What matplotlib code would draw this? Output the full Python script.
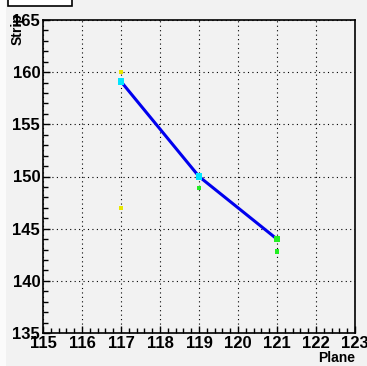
import matplotlib.pyplot as plt
from matplotlib.ticker import MultipleLocator
from matplotlib.patches import Rectangle

# fitted track
line_plane = [117, 119, 121]
line_strip = [159.1, 150.0, 144.0]

# hits, by colour
cyan_plane = [117, 119]
cyan_strip = [159.1, 150.0]
yellow_plane = [117, 117]
yellow_strip = [160.0, 147.0]
green_plane = [119, 121, 121]
green_strip = [148.9, 144.0, 142.8]
green_size = [9, 22, 10]

bg = "#f2f2f2"
plt.rcParams["font.family"] = ["Liberation Sans", "DejaVu Sans"]
plt.rcParams["font.weight"] = "bold"

fig = plt.figure(figsize=(3.67, 3.66), dpi=100, facecolor=bg)
ax = fig.add_axes([43 / 367, 33 / 366, 312 / 367, 313 / 366])
ax.set_facecolor(bg)

# pad border strip and title box
fig.patches.append(Rectangle((0, 0), 6 / 367, 1, transform=fig.transFigure,
                             facecolor="#fbfbfb", edgecolor="none", zorder=0))
fig.patches.append(Rectangle((8 / 367, 360 / 366), 64 / 367, 10 / 366,
                             transform=fig.transFigure, facecolor="white",
                             edgecolor="black", lw=1.2, zorder=1))

ax.plot(line_plane, line_strip, color="#0000ee", lw=2.2, zorder=3)
ax.scatter(yellow_plane, yellow_strip, s=6, marker="s", color="#e8e800",
           edgecolors="none", zorder=4)
ax.scatter(green_plane, green_strip, s=green_size, marker="s", color="#22ee22",
           edgecolors="none", zorder=4)
ax.scatter(cyan_plane, cyan_strip, s=22, marker="s", color="#00e5ff",
           edgecolors="none", zorder=5)

ax.set_xlim(115, 123)
ax.set_ylim(135, 165)
ax.xaxis.set_major_locator(MultipleLocator(1))
ax.xaxis.set_minor_locator(MultipleLocator(0.2))
ax.yaxis.set_major_locator(MultipleLocator(5))
ax.yaxis.set_minor_locator(MultipleLocator(1))
ax.tick_params(which="both", direction="in", top=False, right=False,
               labelsize=12, pad=2)
ax.tick_params(which="major", length=5, width=1)
ax.tick_params(which="minor", length=3.5, width=1)
ax.grid(True, which="major", color="black", ls=(0, (1, 3)), lw=0.8)
for s in ax.spines.values():
    s.set_linewidth(1.2)

ax.text(1.0, -0.058, "Plane", transform=ax.transAxes, ha="right", va="top",
        fontsize=10, fontweight="bold")
ax.text(-0.083, 1.022, "Strip", transform=ax.transAxes, ha="center", va="top",
        rotation=90, fontsize=10, fontweight="bold")

fig.savefig("out.png", dpi=100, facecolor=bg)
